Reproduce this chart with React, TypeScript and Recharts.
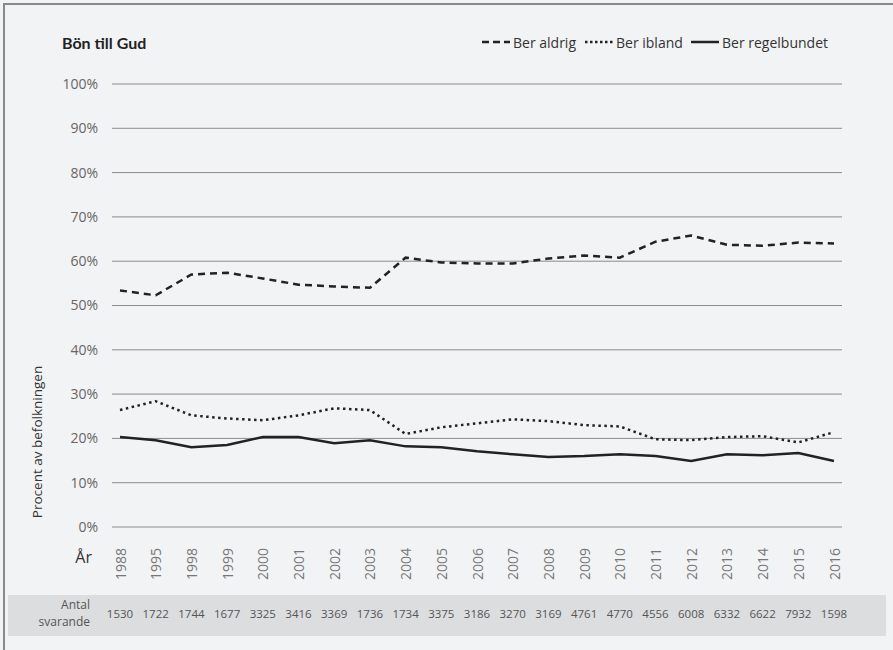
import React from 'react'
import { LineChart, Line, XAxis, YAxis, CartesianGrid, Customized } from 'recharts'

const years = ['1988', '1995', '1998', '1999', '2000', '2001', '2002', '2003', '2004', '2005', '2006', '2007', '2008', '2009', '2010', '2011', '2012', '2013', '2014', '2015', '2016']
const respondents = [1530, 1722, 1744, 1677, 3325, 3416, 3369, 1736, 1734, 3375, 3186, 3270, 3169, 4761, 4770, 4556, 6008, 6332, 6622, 7932, 1598]
const neverPray = [53.4, 52.3, 57.0, 57.4, 56.1, 54.7, 54.3, 54.0, 60.8, 59.7, 59.5, 59.5, 60.6, 61.3, 60.8, 64.4, 65.8, 63.7, 63.5, 64.2, 64.0]
const sometimesPray = [26.4, 28.4, 25.2, 24.5, 24.1, 25.2, 26.8, 26.4, 21.0, 22.5, 23.4, 24.3, 23.9, 23.0, 22.7, 19.8, 19.6, 20.3, 20.5, 19.1, 21.4]
const regularlyPray = [20.3, 19.6, 18.0, 18.5, 20.3, 20.3, 18.9, 19.6, 18.2, 18.0, 17.1, 16.4, 15.8, 16.0, 16.4, 16.0, 14.9, 16.4, 16.2, 16.7, 14.9]
const yTicks = [0, 10, 20, 30, 40, 50, 60, 70, 80, 90, 100]

const data = years.map((year, i) => ({
  year,
  count: respondents[i],
  aldrig: neverPray[i],
  ibland: sometimesPray[i],
  regelbundet: regularlyPray[i],
}))

const FONT = '"Open Sans", Lato, sans-serif'
const TITLE_FONT = 'Lato, "Open Sans", sans-serif'
const INK = '#222'

const YearTick = (props: any) => {
  const { x, y, payload } = props
  return (
    <g>
      <text
        x={0}
        y={0}
        transform={`translate(${x}, ${y + 13}) rotate(-90)`}
        textAnchor="end"
        dominantBaseline="central"
        fontSize={14}
        fill="#777"
        fontFamily={FONT}
      >
        {payload.value}
      </text>
      <text x={x} y={618} textAnchor="middle" fontSize={11.5} fill="#555" fontFamily={FONT}>
        {respondents[payload.index]}
      </text>
    </g>
  )
}

const LegendItem = ({ dash, label, x }: { dash: string; label: string; x: number }) => (
  <g>
    <line x1={x} y1={42} x2={x + 28} y2={42} stroke={INK} strokeWidth={2.5} strokeDasharray={dash} />
    <text x={x + 31} y={42} dominantBaseline="central" fontSize={14} fill="#333" fontFamily={FONT}>
      {label}
    </text>
  </g>
)

export default function App() {
  return (
    <div style={{ position: 'absolute', left: 0, top: 0, width: 893, height: 650, background: '#f2f3f5', overflow: 'hidden' }}>
      <div style={{ position: 'absolute', left: 3, top: 3, right: -10, bottom: -10, borderTop: '2px solid #8a8a8a', borderLeft: '2px solid #8a8a8a' }} />
      <div style={{ position: 'absolute', left: 8, top: 595, width: 878, height: 41, background: '#dcdddf' }} />
      <div style={{ position: 'absolute', left: 0, top: 0 }}>
        <LineChart width={893} height={650} data={data} margin={{ top: 84, right: 51, left: 52, bottom: 63 }}>
          <CartesianGrid vertical={false} stroke="#8c8c8c" strokeWidth={1} />
          <XAxis
            dataKey="year"
            interval={0}
            height={60}
            padding={{ left: 8, right: 8 }}
            axisLine={false}
            tickLine={false}
            tick={<YearTick />}
          />
          <YAxis
            domain={[0, 100]}
            ticks={yTicks}
            width={60}
            axisLine={false}
            tickLine={false}
            tickSize={6}
            tickMargin={8}
            tickFormatter={(v: number) => `${v}%`}
            tick={{ fontSize: 14, fill: '#666', fontFamily: FONT }}
          />
          <Line type="linear" dataKey="aldrig" stroke={INK} strokeWidth={2.5} strokeDasharray="7 5" dot={false} isAnimationActive={false} />
          <Line type="linear" dataKey="ibland" stroke={INK} strokeWidth={2.5} strokeDasharray="2.5 3.5" dot={false} isAnimationActive={false} />
          <Line type="linear" dataKey="regelbundet" stroke={INK} strokeWidth={2.5} dot={false} isAnimationActive={false} />
          <Customized
            component={() => (
              <g>
                <text x={62} y={42} dominantBaseline="central" fontSize={16} fontWeight={700} fill={INK} fontFamily={TITLE_FONT}>
                  Bön till Gud
                </text>
                <LegendItem dash="7 4" label="Ber aldrig" x={482} />
                <LegendItem dash="2.5 2.5" label="Ber ibland" x={585} />
                <LegendItem dash="" label="Ber regelbundet" x={691} />
                <text
                  x={0}
                  y={0}
                  transform="translate(37, 442) rotate(-90)"
                  textAnchor="middle"
                  dominantBaseline="central"
                  fontSize={13.5}
                  fill="#333"
                  fontFamily={FONT}
                >
                  Procent av befolkningen
                </text>
                <text x={92} y={557} textAnchor="end" dominantBaseline="central" fontSize={16} fill="#333" fontFamily={FONT}>
                  År
                </text>
                <text x={90} y={604} textAnchor="end" dominantBaseline="central" fontSize={12} fill="#555" fontFamily={FONT}>
                  Antal
                </text>
                <text x={90} y={621} textAnchor="end" dominantBaseline="central" fontSize={12} fill="#555" fontFamily={FONT}>
                  svarande
                </text>
              </g>
            )}
          />
        </LineChart>
      </div>
    </div>
  )
}
